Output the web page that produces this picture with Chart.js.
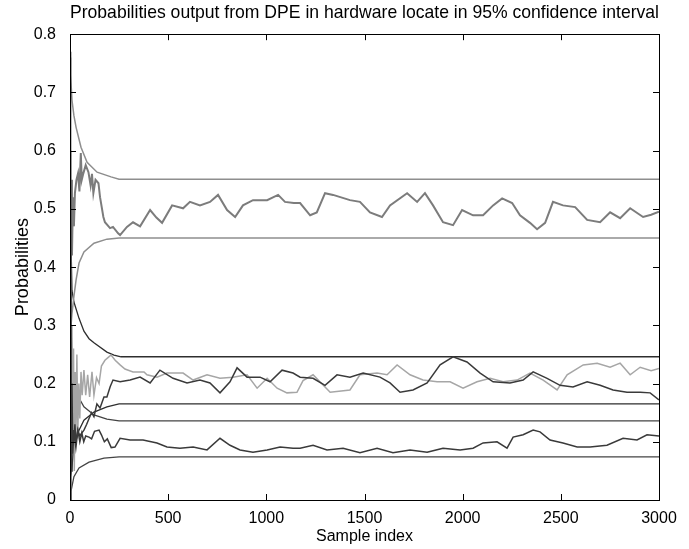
<!DOCTYPE html>
<html>
<head>
<meta charset="utf-8">
<script src="https://cdn.jsdelivr.net/npm/chart.js@4/dist/chart.umd.min.js"></script>
<style>
  html, body { margin: 0; padding: 0; background: #fff; }
  #wrap { width: 689px; height: 549px; }
</style>
</head>
<body>
<div id="wrap"><canvas id="chart"></canvas></div>
<script>
// Axis ranges / tick steps
const xRange = [0, 3000, 500];
const yRange = [0, 0.8, 0.1];

// Confidence bounds, [sample index, probability]
const upperGray = [[0, 0.76], [3, 0.73], [10, 0.687], [20, 0.66], [31, 0.64], [56, 0.606], [87, 0.58], [138, 0.563], [209, 0.555], [250, 0.551], [3000, 0.551]];
const lowerGray = [[0, 0.25], [3, 0.29], [10, 0.32], [20, 0.35], [31, 0.378], [46, 0.407], [71, 0.426], [122, 0.441], [188, 0.448], [250, 0.45], [3000, 0.45]];
const upperDark = [[0, 0.6], [3, 0.48], [10, 0.36], [20, 0.34], [46, 0.312], [71, 0.29], [97, 0.277], [122, 0.27], [188, 0.254], [224, 0.249], [260, 0.246], [3000, 0.246]];
const lowerDark = [[0, 0], [5, 0.04], [20, 0.091], [46, 0.12], [71, 0.137], [122, 0.151], [188, 0.16], [250, 0.165], [3000, 0.165]];
const upperDark2 = [[0, 0.42], [5, 0.3], [10, 0.25], [20, 0.201], [46, 0.175], [71, 0.16], [122, 0.146], [188, 0.139], [250, 0.136], [3000, 0.136]];
const lowerDark2 = [[0, 0], [5, 0.015], [20, 0.04], [46, 0.055], [97, 0.065], [173, 0.072], [250, 0.074], [3000, 0.074]];

// DPE output traces, [sample index, probability]
const outA = [[0, 0.5], [3, 0.33], [6, 0.55], [10, 0.42], [15, 0.52], [20, 0.47], [25, 0.527], [33, 0.55], [41, 0.561], [48, 0.53], [55, 0.596], [60, 0.55], [68, 0.561], [80, 0.575], [94, 0.563], [105, 0.54], [112, 0.56], [119, 0.527], [130, 0.55], [145, 0.544], [153, 0.52], [170, 0.486], [178, 0.477], [204, 0.467], [219, 0.469], [245, 0.458], [255, 0.455], [290, 0.469], [321, 0.477], [357, 0.47], [408, 0.498], [440, 0.485], [469, 0.476], [520, 0.506], [576, 0.501], [611, 0.512], [662, 0.506], [713, 0.512], [754, 0.524], [800, 0.498], [841, 0.486], [881, 0.506], [932, 0.515], [1004, 0.515], [1060, 0.524], [1095, 0.512], [1140, 0.51], [1172, 0.51], [1223, 0.489], [1257, 0.494], [1299, 0.527], [1340, 0.524], [1426, 0.515], [1477, 0.512], [1528, 0.494], [1589, 0.486], [1630, 0.506], [1717, 0.527], [1768, 0.512], [1808, 0.527], [1849, 0.506], [1900, 0.477], [1951, 0.472], [1997, 0.498], [2053, 0.489], [2104, 0.489], [2155, 0.506], [2201, 0.518], [2252, 0.51], [2292, 0.489], [2343, 0.476], [2379, 0.465], [2420, 0.476], [2460, 0.512], [2511, 0.506], [2573, 0.503], [2634, 0.481], [2700, 0.477], [2751, 0.494], [2802, 0.484], [2853, 0.501], [2919, 0.486], [2960, 0.49], [3000, 0.495]];
const outB = [[0, 0.0], [3, 0.42], [6, 0.12], [10, 0.3], [14, 0.08], [18, 0.26], [22, 0.05], [26, 0.22], [30, 0.1], [35, 0.25], [40, 0.12], [45, 0.2], [50, 0.14], [56, 0.22], [62, 0.18], [71, 0.223], [80, 0.18], [90, 0.215], [100, 0.177], [112, 0.22], [122, 0.18], [135, 0.21], [148, 0.2], [160, 0.23], [178, 0.24], [195, 0.245], [209, 0.249], [230, 0.24], [255, 0.232], [280, 0.225], [321, 0.22], [377, 0.22], [392, 0.215], [443, 0.211], [494, 0.218], [576, 0.218], [627, 0.206], [698, 0.215], [764, 0.209], [830, 0.211], [902, 0.215], [953, 0.192], [1004, 0.209], [1055, 0.192], [1105, 0.184], [1156, 0.185], [1187, 0.205], [1238, 0.215], [1325, 0.185], [1426, 0.189], [1477, 0.215], [1564, 0.218], [1615, 0.215], [1666, 0.232], [1732, 0.215], [1798, 0.206], [1870, 0.203], [1936, 0.203], [2002, 0.192], [2073, 0.203], [2140, 0.209], [2206, 0.203], [2277, 0.206], [2343, 0.218], [2410, 0.206], [2481, 0.189], [2532, 0.215], [2614, 0.232], [2685, 0.235], [2751, 0.228], [2802, 0.235], [2853, 0.215], [2904, 0.228], [2960, 0.222], [3000, 0.226]];
const outC = [[0, 0.77], [2, 0.3], [4, 0.55], [7, 0.05], [10, 0.2], [14, 0.08], [20, 0.12], [30, 0.09], [40, 0.12], [50, 0.11], [60, 0.115], [71, 0.12], [85, 0.13], [97, 0.14], [110, 0.15], [122, 0.143], [137, 0.165], [153, 0.158], [173, 0.177], [188, 0.177], [205, 0.195], [219, 0.206], [255, 0.203], [306, 0.206], [357, 0.211], [408, 0.201], [458, 0.223], [525, 0.209], [596, 0.201], [662, 0.206], [713, 0.201], [764, 0.184], [815, 0.203], [851, 0.227], [902, 0.211], [968, 0.211], [1019, 0.203], [1080, 0.223], [1136, 0.218], [1172, 0.211], [1238, 0.209], [1299, 0.197], [1360, 0.215], [1426, 0.211], [1493, 0.218], [1579, 0.211], [1630, 0.201], [1681, 0.185], [1747, 0.189], [1819, 0.201], [1885, 0.232], [1951, 0.246], [2022, 0.237], [2089, 0.218], [2155, 0.203], [2241, 0.201], [2308, 0.206], [2359, 0.22], [2430, 0.209], [2496, 0.197], [2562, 0.194], [2634, 0.203], [2700, 0.197], [2766, 0.189], [2837, 0.185], [2904, 0.185], [2955, 0.184], [3000, 0.172]];
const outD = [[0, 0.3], [3, 0.05], [6, 0.15], [10, 0.08], [15, 0.12], [20, 0.1], [25, 0.13], [30, 0.1], [40, 0.12], [50, 0.1], [60, 0.115], [70, 0.1], [80, 0.11], [97, 0.108], [110, 0.105], [125, 0.118], [148, 0.12], [160, 0.112], [175, 0.1], [190, 0.105], [210, 0.09], [229, 0.091], [255, 0.106], [306, 0.103], [372, 0.103], [443, 0.098], [494, 0.091], [560, 0.089], [627, 0.091], [698, 0.086], [764, 0.106], [815, 0.094], [866, 0.086], [932, 0.082], [1004, 0.086], [1070, 0.091], [1136, 0.089], [1172, 0.089], [1238, 0.094], [1309, 0.086], [1391, 0.089], [1477, 0.081], [1564, 0.089], [1645, 0.081], [1732, 0.086], [1819, 0.082], [1900, 0.089], [1987, 0.086], [2053, 0.089], [2104, 0.098], [2175, 0.1], [2226, 0.089], [2257, 0.108], [2308, 0.112], [2359, 0.12], [2394, 0.117], [2445, 0.103], [2511, 0.098], [2583, 0.091], [2649, 0.091], [2735, 0.094], [2817, 0.106], [2888, 0.103], [2939, 0.112], [3000, 0.11]];

const FONT = '"Liberation Sans", Arial, Helvetica, sans-serif';

const toXY = pts => pts.map(([x, y]) => ({ x, y }));

function line(pts, color, width) {
    return {
        data: toXY(pts),
        borderColor: color,
        borderWidth: width,
        pointRadius: 0,
        tension: 0,
        fill: false,
    };
}

// MATLAB-like box with inward tick marks on all four sides
const boxTicks = {
    id: 'boxTicks',
    afterDatasetsDraw(chart) {
        const { ctx, chartArea: a, scales: { x, y } } = chart;
        const len = 6;
        ctx.save();
        ctx.strokeStyle = '#000';
        ctx.lineWidth = 1;
        ctx.strokeRect(Math.round(a.left) + 0.5, Math.round(a.top) + 0.5,
            Math.round(a.right - a.left), Math.round(a.bottom - a.top));
        ctx.beginPath();
        x.ticks.forEach(t => {
            const px = Math.round(x.getPixelForValue(t.value)) + 0.5;
            ctx.moveTo(px, a.bottom); ctx.lineTo(px, a.bottom - len);
            ctx.moveTo(px, a.top); ctx.lineTo(px, a.top + len);
        });
        y.ticks.forEach(t => {
            const py = Math.round(y.getPixelForValue(t.value)) + 0.5;
            ctx.moveTo(a.left, py); ctx.lineTo(a.left + len, py);
            ctx.moveTo(a.right, py); ctx.lineTo(a.right - len, py);
        });
        ctx.stroke();
        ctx.restore();
    },
};

new Chart(document.getElementById('chart'), {
    type: 'line',
    data: {
        datasets: [
            line(outD, '#3a3a3a', 1.5),
            line(outC, '#3a3a3a', 1.5),
            line(outB, '#a6a6a6', 1.5),
            line(outA, '#7c7c7c', 2),
            line(upperGray, '#8e8e8e', 1.5),
            line(lowerGray, '#8e8e8e', 1.5),
            line(upperDark, '#2e2e2e', 1.3),
            line(lowerDark, '#2e2e2e', 1.3),
            line(upperDark2, '#444444', 1.3),
            line(lowerDark2, '#444444', 1.3),
        ],
    },
    options: {
        responsive: true,
        maintainAspectRatio: false,
        animation: false,
        layout: {
            padding: { top: 0, left: 12, right: 30, bottom: 3 },
        },
        plugins: {
            legend: { display: false },
            tooltip: { enabled: false },
            title: {
                display: true,
                fullSize: false,
                text: 'Probabilities output from DPE in hardware locate in 95% confidence interval',
                color: '#000',
                font: { family: FONT, size: 18.5, weight: 'normal' },
                padding: { top: 2, bottom: 10 },
            },
        },
        scales: {
            x: {
                type: 'linear',
                min: xRange[0],
                max: xRange[1],
                afterFit: s => { s.height = 46; },
                ticks: {
                    stepSize: xRange[2],
                    color: '#000',
                    padding: 1,
                    font: { family: FONT, size: 16 },
                    maxRotation: 0,
                    callback: v => String(v),
                },
                grid: { display: false },
                border: { display: false },
                title: {
                    display: true,
                    text: 'Sample index',
                    color: '#000',
                    font: { family: FONT, size: 16 },
                    padding: { top: 0, bottom: 0 },
                },
            },
            y: {
                type: 'linear',
                min: yRange[0],
                max: yRange[1],
                afterFit: s => { s.width = 58; },
                ticks: {
                    stepSize: yRange[2],
                    color: '#000',
                    padding: 6,
                    font: { family: FONT, size: 16 },
                    callback: v => (v === 0 ? '0' : v.toFixed(1)),
                },
                grid: { display: false },
                border: { display: false },
                title: {
                    display: true,
                    text: 'Probabilities',
                    color: '#000',
                    font: { family: FONT, size: 18 },
                    padding: { top: 0, bottom: 0 },
                },
            },
        },
    },
    plugins: [boxTicks],
});
</script>
</body>
</html>
